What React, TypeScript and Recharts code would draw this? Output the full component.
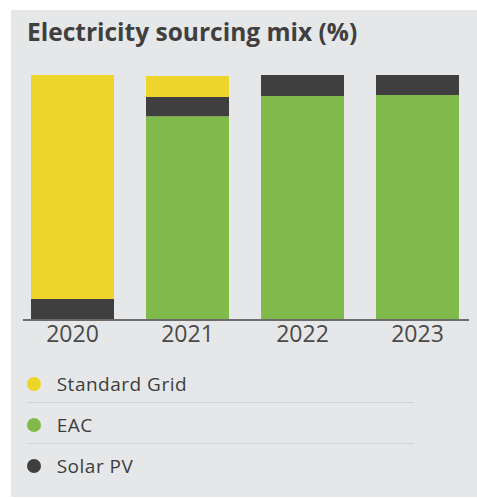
import React from 'react';
import { BarChart, Bar, XAxis, YAxis, Legend } from 'recharts';

const years = ['2020', '2021', '2022', '2023'];
const standardGrid = [91.4, 8.6, 0, 0];
const eac = [0, 83.2, 91.4, 91.8];
const solarPV = [8.6, 7.8, 8.6, 8.2];

const seriesNames = ['Standard Grid', 'EAC', 'Solar PV'];
const seriesColors = ['#EED52B', '#80BA4A', '#3F3F3F'];

const data = years.map((y, i) => ({
  year: y,
  grid: standardGrid[i],
  eac: eac[i],
  solar: solarPV[i],
}));

const FONT = '"Open Sans", "DejaVu Sans", sans-serif';

const LegendContent = () => (
  <div style={{ position: 'relative', width: 466, height: 123 }}>
    {seriesNames.map((name, i) => (
      <div key={name} style={{ position: 'absolute', top: i * 41, left: 0, width: 466, height: 41 }}>
        <div
          style={{
            position: 'absolute',
            left: 15.7,
            top: 13.5,
            width: 14,
            height: 14,
            borderRadius: 7,
            background: seriesColors[i],
          }}
        />
        <div
          style={{
            position: 'absolute',
            left: 45.7,
            top: 0,
            height: 41,
            lineHeight: '41px',
            fontFamily: FONT,
            fontSize: 19,
            letterSpacing: 0.5,
            fontWeight: 500,
            color: '#3d3d3d',
            whiteSpace: 'nowrap',
          }}
        >
          {name}
        </div>
        {i < seriesNames.length - 1 && (
          <div
            style={{
              position: 'absolute',
              left: 15.7,
              top: 38.3,
              width: 387,
              height: 1.5,
              background: '#d1d2d4',
            }}
          />
        )}
      </div>
    ))}
  </div>
);

export default function App() {
  return (
    <div
      style={{
        position: 'absolute',
        left: 11,
        top: 10,
        width: 466,
        height: 487,
        background: '#E6E7E9',
      }}
    >
      <div
        style={{
          position: 'absolute',
          left: 16,
          top: 5,
          fontFamily: FONT,
          fontSize: 24.5,
          fontWeight: 700,
          color: '#3f3f3f',
          whiteSpace: 'nowrap',
          lineHeight: '34px',
        }}
      >
        Electricity sourcing mix (%)
      </div>
      <BarChart
        width={466}
        height={487}
        data={data}
        margin={{ top: 65, right: 8, bottom: 147, left: 12 }}
        barSize={83}
      >
        <XAxis
          dataKey="year"
          tickLine={false}
          axisLine={{ stroke: '#6b6b6b', strokeWidth: 2 }}
          tickSize={6}
          tickMargin={0}
          height={30}
          padding={{ left: -8, right: -6 }}
          tick={{ fontFamily: FONT, fontSize: 23, fill: '#4a4a4a' }}
          interval={0}
        />
        <YAxis hide domain={[0, 100]} />
        <Bar dataKey="eac" stackId="a" fill={seriesColors[1]} isAnimationActive={false} name={seriesNames[1]} />
        <Bar dataKey="solar" stackId="a" fill={seriesColors[2]} isAnimationActive={false} name={seriesNames[2]} />
        <Bar dataKey="grid" stackId="a" fill={seriesColors[0]} isAnimationActive={false} name={seriesNames[0]} />
        <Legend
          layout="vertical"
          align="center"
          verticalAlign="middle"
          content={<LegendContent />}
          wrapperStyle={{ position: 'absolute', top: 353.5, left: 0, width: 466, height: 123 }}
        />
      </BarChart>
    </div>
  );
}
